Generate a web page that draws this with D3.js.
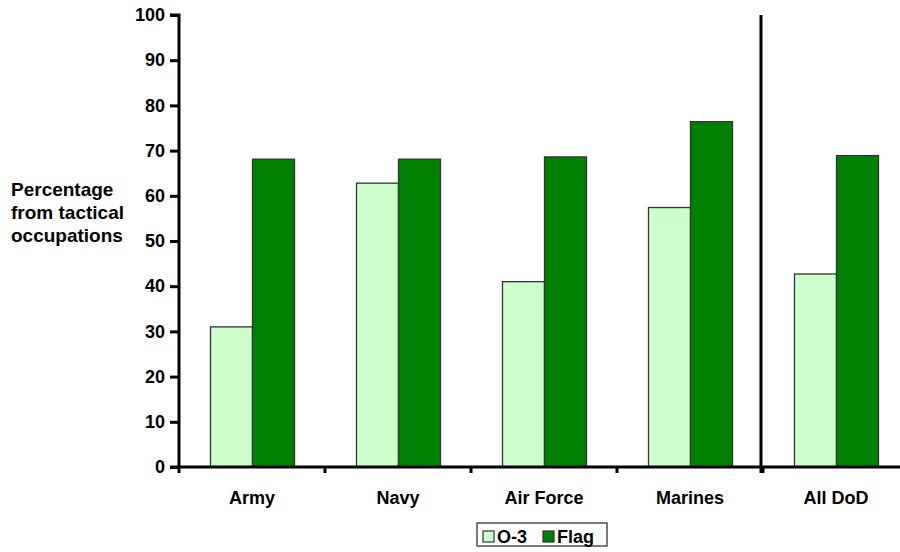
<!DOCTYPE html>
<html><head><meta charset="utf-8">
<script src="https://cdn.jsdelivr.net/npm/d3@7"></script>
<style>
body{margin:0;background:#fff;}
svg text{font-family:"Liberation Sans",Arial,sans-serif;font-weight:bold;fill:#000;}
</style></head>
<body><svg id="c" width="900" height="552"></svg>
<script>
const categories = ["Army","Navy","Air Force","Marines","All DoD"];
const seriesNames = ["O-3","Flag"];
const o3Values = [31.0, 62.8, 41.0, 57.4, 42.7];
const flagValues = [68.1, 68.1, 68.6, 76.4, 68.9];
const yTicks = [0,10,20,30,40,50,60,70,80,90,100];
const colors = ["#ccffcc","#008000"];

(function(){
const svg = d3.select("#c");
const mLeft = 179, mTop = 15, mBottom = 467, mRight = 909;
const x = d3.scaleBand().domain(categories).range([mLeft, mRight]).paddingInner(0).paddingOuter(0);
const y = d3.scaleLinear().domain([0,100]).range([mBottom, mTop]);
const bw = 42;
const inner = d3.scaleBand().domain(seriesNames).range([0, bw*2]);

const data = categories.map((c,i)=>({cat:c, vals:[o3Values[i], flagValues[i]]}));

const g = svg.append("g");
data.forEach(d=>{
  d.vals.forEach((v,j)=>{
    const cx = x(d.cat) + x.bandwidth()/2 - bw;
    g.append("rect")
      .attr("x", cx + inner(seriesNames[j]) + 0.5)
      .attr("y", y(v))
      .attr("width", bw)
      .attr("height", mBottom - y(v))
      .attr("fill", colors[j])
      .attr("stroke", "#333")
      .attr("stroke-width", 1.3);
  });
});

// y axis
const yAxis = d3.axisLeft(y).tickValues(yTicks).tickSize(9).tickPadding(5);
const ya = svg.append("g").attr("transform",`translate(${mLeft},0)`).call(yAxis);
ya.select(".domain").attr("stroke","#000").attr("stroke-width",3).attr("d",`M-9,${mTop}H0V${mBottom+6}`);
ya.selectAll(".tick line").attr("stroke","#000").attr("stroke-width",3);
ya.selectAll(".tick text").attr("font-size",18).attr("font-family","Liberation Sans, Arial, sans-serif").attr("font-weight","bold");

// x axis
const xa = svg.append("g").attr("transform",`translate(0,${mBottom})`);
xa.append("line").attr("x1",mLeft-9).attr("x2",900).attr("y1",0).attr("y2",0).attr("stroke","#000").attr("stroke-width",3);
categories.slice(1).forEach(c=>{
  xa.append("line").attr("x1",x(c)).attr("x2",x(c)).attr("y1",0).attr("y2",6).attr("stroke","#000").attr("stroke-width",3);
});
categories.forEach(c=>{
  xa.append("text").attr("x",x(c)+x.bandwidth()/2).attr("y",37).attr("text-anchor","middle").attr("font-size",18).text(c);
});

// separator
svg.append("line").attr("x1",x("All DoD")-2).attr("x2",x("All DoD")-2).attr("y1",mTop).attr("y2",mBottom+6).attr("stroke","#000").attr("stroke-width",3);

// y label
const lbl = ["Percentage","from tactical","occupations"];
svg.append("text").attr("x",11).attr("y",196).attr("font-size",19)
  .selectAll("tspan").data(lbl).join("tspan").attr("x",11).attr("dy",(d,i)=>i?23:0).text(d=>d);

// legend
const lg = svg.append("g");
lg.append("rect").attr("x",477).attr("y",523).attr("width",130).attr("height",23).attr("fill","#fff").attr("stroke","#333").attr("stroke-width",1.3);
const items = [{n:"O-3",c:colors[0],x:483},{n:"Flag",c:colors[1],x:543}];
items.forEach(it=>{
  lg.append("rect").attr("x",it.x).attr("y",531).attr("width",11).attr("height",11).attr("fill",it.c).attr("stroke","#333").attr("stroke-width",1.2);
  lg.append("text").attr("x",it.x+14).attr("y",543).attr("font-size",18).text(it.n);
});
})();
</script></body></html>
